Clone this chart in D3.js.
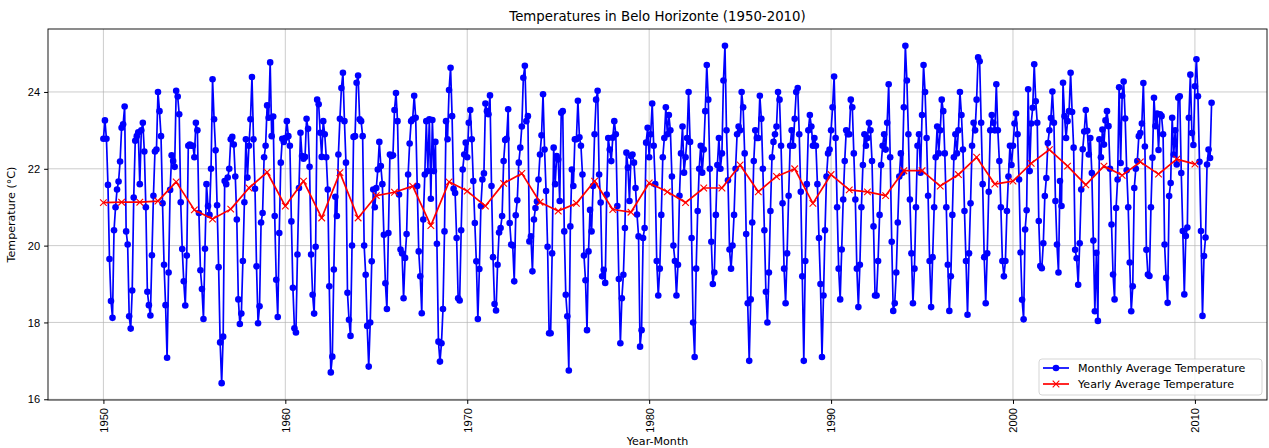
<!DOCTYPE html>
<html>
<head>
<meta charset="utf-8">
<script src="https://cdn.jsdelivr.net/npm/d3@7"></script>
<style>
  body { margin: 0; background: #fff; }
  svg { display: block; font-family: "DejaVu Sans", sans-serif; }
</style>
</head>
<body>
<div id="chart"></div>
<script>
// first year of the series, one row of 12 monthly means per year
const firstYear = 1950;

const monthlyTemps = [
  // 1950s
  [22.78, 23.26, 22.78, 21.58, 19.65, 18.56, 18.12, 20.40, 21.00, 21.46, 21.67, 22.19],
  [23.07, 23.16, 23.62, 20.37, 20.03, 18.16, 17.84, 18.83, 21.25, 22.73, 22.85, 22.95],
  [21.60, 23.00, 23.20, 22.45, 21.00, 18.80, 18.45, 18.18, 19.75, 21.30, 22.45, 22.50],
  [24.00, 23.50, 22.85, 21.10, 19.50, 18.45, 17.08, 19.30, 21.45, 22.35, 22.20, 22.05],
  [24.03, 23.88, 23.42, 21.13, 19.91, 19.07, 18.44, 19.74, 22.60, 22.63, 22.60, 22.60],
  [22.30, 23.20, 23.00, 20.85, 19.36, 18.87, 18.09, 19.92, 21.60, 21.03, 20.80, 22.00],
  [24.33, 23.29, 22.48, 21.05, 19.44, 17.48, 16.42, 17.63, 21.68, 21.60, 21.77, 22.00],
  [22.77, 22.83, 22.63, 21.80, 20.68, 18.60, 17.96, 18.23, 19.60, 21.13, 22.77, 21.77],
  [22.60, 23.29, 24.39, 22.77, 21.48, 19.46, 17.98, 18.42, 20.60, 20.85, 22.30, 22.60],
  [23.65, 23.33, 24.77, 22.85, 23.36, 20.77, 19.11, 18.14, 20.33, 22.16, 22.78, 22.70],
  // 1960s
  [22.80, 23.24, 22.85, 22.60, 20.63, 18.90, 17.85, 17.74, 19.77, 21.50, 22.94, 22.33],
  [22.26, 22.31, 23.30, 23.04, 22.05, 19.77, 18.72, 18.23, 19.97, 23.80, 23.68, 22.94],
  [22.31, 23.24, 22.90, 22.30, 21.46, 18.94, 16.70, 17.11, 19.38, 21.27, 20.77, 22.37],
  [23.30, 24.10, 24.50, 23.24, 22.16, 18.77, 18.07, 17.65, 20.00, 22.83, 22.85, 24.24],
  [24.43, 23.29, 23.24, 22.85, 20.00, 19.24, 17.91, 16.85, 18.00, 19.59, 21.46, 21.00],
  [21.50, 21.98, 22.70, 22.07, 21.60, 20.28, 19.02, 18.35, 20.33, 22.37, 22.33, 22.35],
  [23.53, 23.97, 23.24, 21.33, 19.90, 19.80, 18.63, 19.68, 20.30, 21.85, 22.66, 23.24],
  [23.29, 23.90, 23.33, 21.55, 19.85, 19.20, 18.24, 20.68, 21.85, 23.24, 21.94, 23.29],
  [21.22, 23.27, 21.94, 22.70, 20.05, 17.50, 16.98, 17.46, 18.35, 20.37, 23.24, 22.77],
  [24.05, 24.63, 23.37, 21.48, 21.37, 20.20, 18.63, 18.57, 20.40, 21.98, 22.37, 22.68],
  // 1970s
  [22.30, 23.20, 23.53, 22.77, 21.68, 20.59, 19.59, 18.09, 19.39, 21.03, 21.72, 21.88],
  [23.70, 23.50, 23.42, 23.91, 21.55, 19.70, 18.48, 18.31, 19.50, 20.34, 20.46, 20.77],
  [22.20, 22.75, 22.78, 23.55, 20.59, 20.03, 20.00, 19.07, 20.79, 21.18, 22.16, 22.55],
  [23.10, 24.37, 24.68, 23.24, 23.37, 20.11, 20.24, 19.33, 20.68, 20.98, 21.15, 21.72],
  [22.37, 22.87, 23.94, 22.50, 21.42, 19.97, 17.72, 17.72, 19.80, 22.55, 21.60, 22.33],
  [22.24, 21.16, 23.46, 23.50, 20.37, 18.72, 18.16, 16.75, 20.50, 21.98, 21.55, 22.77],
  [22.77, 23.77, 22.82, 22.60, 21.85, 19.74, 19.10, 17.80, 19.85, 20.93, 20.37, 21.55],
  [22.90, 23.80, 24.03, 21.85, 21.12, 19.20, 19.37, 19.03, 21.33, 22.80, 22.50, 22.20],
  [22.81, 23.24, 22.90, 21.03, 19.13, 17.46, 18.63, 19.24, 20.46, 22.42, 22.03, 21.16],
  [22.33, 22.37, 22.16, 21.50, 20.81, 20.24, 17.37, 17.80, 20.20, 20.46, 22.68, 23.07],
  // 1980s
  [22.30, 22.90, 23.70, 22.60, 21.60, 19.60, 18.70, 19.40, 20.80, 22.30, 22.80, 23.60],
  [22.90, 23.40, 23.00, 21.80, 20.00, 19.60, 18.70, 19.50, 21.30, 22.40, 23.10, 21.90],
  [22.30, 22.80, 24.00, 22.70, 20.20, 18.00, 17.10, 19.40, 20.90, 22.00, 22.60, 21.90],
  [22.50, 23.50, 24.70, 23.80, 22.00, 20.10, 19.00, 19.30, 20.80, 22.10, 22.80, 22.00],
  [22.40, 24.30, 25.20, 23.00, 21.70, 19.90, 19.40, 20.00, 20.80, 22.00, 22.90, 23.10],
  [23.00, 24.00, 23.60, 22.40, 20.30, 18.50, 17.00, 18.60, 20.60, 22.20, 23.00, 22.80],
  [22.80, 23.90, 23.30, 22.00, 20.40, 18.80, 18.00, 19.30, 20.90, 22.30, 22.70, 22.90],
  [23.10, 24.00, 23.80, 22.60, 21.10, 19.40, 18.50, 19.80, 21.30, 22.60, 23.00, 22.60],
  [23.30, 24.00, 24.10, 22.90, 21.40, 19.20, 17.00, 19.60, 21.60, 23.00, 23.40, 23.10],
  [22.60, 22.80, 22.60, 21.60, 20.20, 19.00, 17.10, 18.70, 20.40, 21.80, 22.40, 22.50],
  // 1990s
  [23.00, 23.60, 24.40, 22.80, 21.00, 19.40, 18.60, 19.90, 21.20, 22.20, 23.00, 22.90],
  [22.90, 23.80, 23.60, 22.40, 21.20, 19.40, 18.40, 19.50, 21.00, 22.10, 22.90, 22.60],
  [22.80, 23.20, 23.00, 22.20, 20.50, 18.70, 18.70, 19.60, 20.80, 22.10, 22.60, 22.90],
  [22.50, 23.20, 24.20, 22.30, 20.10, 18.30, 18.50, 19.30, 20.60, 21.80, 22.40, 21.90],
  [23.60, 25.20, 24.30, 22.90, 21.20, 19.80, 18.50, 19.40, 21.00, 22.60, 22.90, 21.90],
  [23.40, 24.70, 24.00, 22.80, 21.30, 19.60, 18.40, 19.70, 21.00, 22.30, 23.10, 22.40],
  [23.00, 23.80, 23.50, 22.40, 21.00, 19.50, 18.30, 19.20, 20.80, 22.30, 22.90, 22.40],
  [23.00, 24.00, 23.40, 22.50, 20.90, 19.60, 18.20, 19.80, 21.10, 22.60, 23.20, 23.00],
  [23.80, 24.90, 24.80, 23.20, 21.60, 19.70, 18.50, 19.80, 21.40, 23.00, 23.40, 23.20],
  [23.00, 24.20, 23.00, 22.20, 21.00, 19.60, 19.20, 19.60, 20.90, 21.80, 22.60, 22.10],
  // 2000s
  [22.60, 23.18, 23.44, 22.90, 21.72, 19.82, 18.59, 18.08, 20.42, 20.92, 24.07, 21.94],
  [23.18, 23.59, 24.72, 23.76, 23.20, 20.64, 19.47, 19.41, 20.06, 21.29, 21.76, 22.67],
  [23.00, 23.32, 24.01, 23.20, 21.16, 20.03, 19.30, 21.68, 21.03, 24.24, 23.37, 22.80],
  [23.24, 23.50, 24.50, 23.48, 22.55, 19.89, 19.67, 18.98, 20.06, 21.46, 22.51, 22.97],
  [23.53, 22.99, 22.37, 22.80, 21.89, 20.13, 18.29, 19.81, 18.04, 22.77, 22.30, 23.02],
  [22.63, 23.26, 23.50, 23.11, 22.00, 20.55, 19.25, 18.60, 20.98, 21.72, 24.12, 22.15],
  [23.90, 24.27, 23.31, 21.96, 21.00, 19.56, 18.29, 18.94, 21.50, 22.00, 22.20, 22.85],
  [22.93, 23.18, 24.23, 22.58, 19.89, 19.25, 19.21, 21.00, 22.29, 23.85, 23.11, 23.44],
  [22.49, 23.42, 23.37, 22.90, 20.03, 19.16, 18.51, 21.29, 21.63, 23.33, 22.37, 23.00],
  [22.11, 23.85, 23.89, 21.89, 20.38, 18.73, 20.25, 20.47, 23.33, 24.45, 22.93, 22.62],
  // 2010
  [24.15, 24.85, 23.89, 22.18, 20.38, 18.17, 19.73, 20.21, 22.11, 22.50, 22.28, 23.72]
];

// yearly means, 1950 to 2010
const yearlyAvg = [
  21.12, 21.13, 21.13, 21.16, 21.66, 20.93, 20.69, 20.95, 21.50, 21.91,
  21.03, 21.68, 20.72, 21.90, 20.72, 21.30, 21.39, 21.55, 20.52, 21.66,
  21.42, 21.03, 21.62, 21.88, 21.13, 20.90, 21.10, 21.68, 20.94, 20.87,
  21.63, 21.40, 21.12, 21.50, 21.50, 22.10, 21.40, 21.80, 22.00, 21.10,
  21.85, 21.45, 21.40, 21.30, 21.95, 21.95, 21.55, 21.85, 22.30, 21.60,
  21.68, 22.14, 22.50, 22.07, 21.58, 22.07, 21.83, 22.18, 21.86, 22.25,
  22.12
];

const xTicks = [1950, 1960, 1970, 1980, 1990, 2000, 2010];
const yTicks = [16, 18, 20, 22, 24];

const width = 1269, height = 448;
const margin = { top: 29, right: 2, bottom: 48, left: 48 };

const monthly = monthlyTemps.flatMap((row, i) =>
  row.map((t, m) => ({ date: firstYear + i + m / 12, temp: t })));
const yearly = yearlyAvg.map((t, i) => ({ date: firstYear + i, temp: t }));

// 5% padding like matplotlib autoscale
function padded(ext) {
  const p = (ext[1] - ext[0]) * 0.05;
  return [ext[0] - p, ext[1] + p];
}

const x = d3.scaleLinear()
  .domain(padded(d3.extent(monthly, d => d.date)))
  .range([margin.left, width - margin.right]);

const y = d3.scaleLinear()
  .domain(padded(d3.extent(monthly, d => d.temp)))
  .range([height - margin.bottom, margin.top]);

const svg = d3.select("#chart")
  .append("svg")
  .attr("width", width)
  .attr("height", height);

// Grid
svg.append("g")
  .selectAll("line")
  .data(xTicks)
  .join("line")
  .attr("x1", d => x(d)).attr("x2", d => x(d))
  .attr("y1", margin.top).attr("y2", height - margin.bottom)
  .attr("stroke", "#b0b0b0").attr("stroke-width", 0.9).attr("opacity", 0.7);

svg.append("g")
  .selectAll("line")
  .data(yTicks)
  .join("line")
  .attr("x1", margin.left).attr("x2", width - margin.right)
  .attr("y1", d => y(d)).attr("y2", d => y(d))
  .attr("stroke", "#b0b0b0").attr("stroke-width", 0.9).attr("opacity", 0.7);

// Monthly line + markers
const line = d3.line().x(d => x(d.date)).y(d => y(d.temp));

svg.append("path")
  .datum(monthly)
  .attr("fill", "none")
  .attr("stroke", "#0000ff")
  .attr("stroke-width", 1.7)
  .attr("stroke-linejoin", "round")
  .attr("d", line);

svg.append("g")
  .selectAll("circle")
  .data(monthly)
  .join("circle")
  .attr("cx", d => x(d.date))
  .attr("cy", d => y(d.temp))
  .attr("r", 3.3)
  .attr("fill", "#0000ff");

// Yearly line + x markers
svg.append("path")
  .datum(yearly)
  .attr("fill", "none")
  .attr("stroke", "#ff0000")
  .attr("stroke-width", 1.7)
  .attr("stroke-linejoin", "round")
  .attr("d", line);

const xMark = "M-3.3,-3.3L3.3,3.3M-3.3,3.3L3.3,-3.3";
svg.append("g")
  .selectAll("path")
  .data(yearly)
  .join("path")
  .attr("transform", d => `translate(${x(d.date)},${y(d.temp)})`)
  .attr("d", xMark)
  .attr("stroke", "#ff0000")
  .attr("stroke-width", 1.1)
  .attr("fill", "none");

// Axes
const xAxis = svg.append("g")
  .attr("transform", `translate(0,${height - margin.bottom})`)
  .call(d3.axisBottom(x).tickValues(xTicks).tickFormat(d3.format("d")).tickSize(3.9).tickPadding(4));
xAxis.select(".domain").remove();
xAxis.selectAll("text")
  .attr("transform", "rotate(-90)")
  .attr("text-anchor", "end")
  .attr("x", -8).attr("y", 0).attr("dy", "0.35em")
  .style("font-size", "11.1px").attr("fill", "#000");

const yAxis = svg.append("g")
  .attr("transform", `translate(${margin.left},0)`)
  .call(d3.axisLeft(y).tickValues(yTicks).tickSize(3.9).tickPadding(4));
yAxis.select(".domain").remove();
yAxis.selectAll("text").style("font-size", "11.1px").attr("fill", "#000");

// Frame
svg.append("rect")
  .attr("x", margin.left).attr("y", margin.top)
  .attr("width", width - margin.left - margin.right)
  .attr("height", height - margin.top - margin.bottom)
  .attr("fill", "none").attr("stroke", "#000").attr("stroke-width", 0.9);

// Title and labels
svg.append("text")
  .attr("x", (margin.left + width - margin.right) / 2)
  .attr("y", 21)
  .attr("text-anchor", "middle")
  .style("font-size", "13.3px")
  .text("Temperatures in Belo Horizonte (1950-2010)");

svg.append("text")
  .attr("x", (margin.left + width - margin.right) / 2)
  .attr("y", 445)
  .attr("text-anchor", "middle")
  .style("font-size", "11.1px")
  .text("Year-Month");

svg.append("text")
  .attr("transform", `translate(15,${(margin.top + height - margin.bottom) / 2}) rotate(-90)`)
  .attr("text-anchor", "middle")
  .style("font-size", "11.1px")
  .text("Temperature (°C)");

// Legend
const legend = svg.append("g").attr("transform", "translate(1039,359)");
legend.append("rect")
  .attr("width", 223).attr("height", 36).attr("rx", 3)
  .attr("fill", "#fff").attr("fill-opacity", 0.8)
  .attr("stroke", "#d0d0d0").attr("stroke-width", 0.9);

const items = [
  { label: "Monthly Average Temperature", color: "#0000ff", marker: "o" },
  { label: "Yearly Average Temperature", color: "#ff0000", marker: "x" }
];
items.forEach((it, i) => {
  const cy = 9 + i * 16;
  legend.append("line")
    .attr("x1", 4).attr("x2", 30).attr("y1", cy).attr("y2", cy)
    .attr("stroke", it.color).attr("stroke-width", 1.7);
  if (it.marker === "o") {
    legend.append("circle").attr("cx", 17).attr("cy", cy).attr("r", 3.3).attr("fill", it.color);
  } else {
    legend.append("path").attr("transform", `translate(17,${cy})`).attr("d", xMark)
      .attr("stroke", it.color).attr("stroke-width", 1.1);
  }
  legend.append("text")
    .attr("x", 39).attr("y", cy).attr("dy", "0.35em")
    .style("font-size", "11.1px")
    .text(it.label);
});
</script>
</body>
</html>
